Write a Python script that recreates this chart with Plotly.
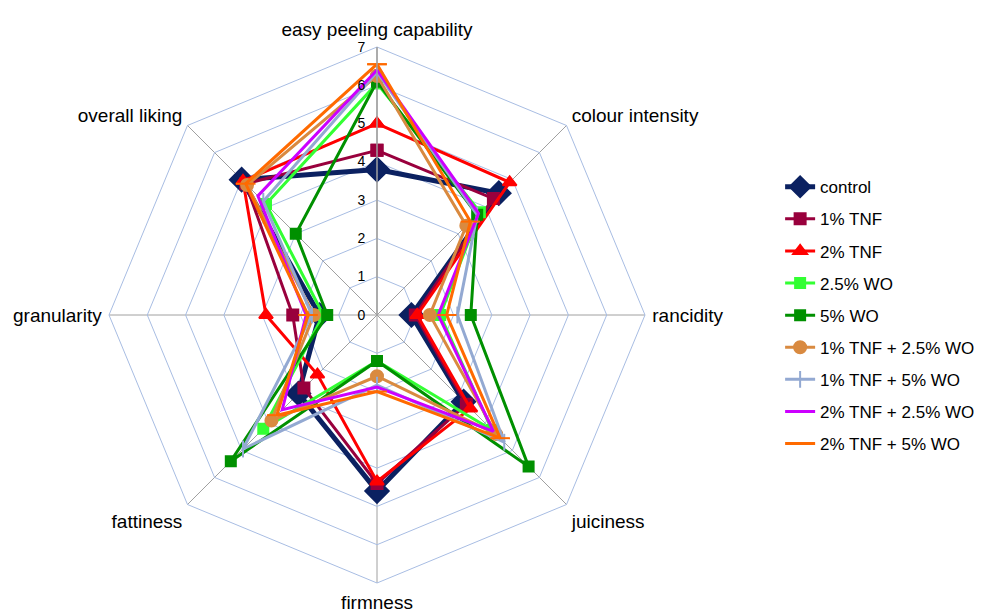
import plotly.graph_objects as go

# Sensory attributes, clockwise from the top
attributes = ["easy peeling capability", "colour intensity", "rancidity", "juiciness",
              "firmness", "fattiness", "granularity", "overall liking"]

control        = [3.8, 4.5, 0.9, 3.2, 4.6, 2.9, 1.5, 5.0]
tnf_1          = [4.3, 4.3, 1.0, 3.3, 4.4, 2.7, 2.2, 4.85]
tnf_2          = [5.0, 4.9, 1.05, 3.45, 4.35, 2.2, 2.9, 4.95]
wo_2_5         = [6.05, 3.8, 1.65, 4.25, 1.2, 4.2, 1.4, 4.1]
wo_5           = [6.1, 3.7, 2.45, 5.6, 1.2, 5.4, 1.3, 3.0]
tnf1_wo2_5     = [6.25, 3.3, 1.38, 4.4, 1.6, 3.9, 1.65, 4.8]
tnf1_wo5       = [6.35, 3.7, 2.1, 4.7, 1.83, 4.95, 1.7, 4.2]
tnf2_wo2_5     = [6.4, 3.75, 1.6, 4.3, 1.88, 3.5, 1.85, 4.4]
tnf2_wo5       = [6.55, 3.45, 1.82, 4.55, 2.0, 3.7, 1.8, 4.85]

radial_ticks = [0, 1, 2, 3, 4, 5, 6, 7]

series = [
    ("control", control, "#0B2161", "diamond", 18, 5),
    ("1% TNF", tnf_1, "#99003D", "square", 11, 3),
    ("2% TNF", tnf_2, "#FF0000", "triangle-up", 12, 3),
    ("2.5% WO", wo_2_5, "#33FF33", "square", 10, 3),
    ("5% WO", wo_5, "#009000", "square", 10, 3),
    ("1% TNF + 2.5% WO", tnf1_wo2_5, "#D98A40", "circle", 12, 3),
    ("1% TNF + 5% WO", tnf1_wo5, "#93A9D2", "line-ns", 12, 3),
    ("2% TNF + 2.5% WO", tnf2_wo2_5, "#CC00FF", None, 0, 3),
    ("2% TNF + 5% WO", tnf2_wo5, "#FF6A00", "line-ew", 14, 3),
]

fig = go.Figure()
for name, vals, color, symbol, msize, lw in series:
    r = vals + vals[:1]
    th = attributes + attributes[:1]
    if symbol is None:
        mode = "lines"
        marker = dict()
    else:
        mode = "lines+markers"
        marker = dict(symbol=symbol, size=msize, color=color,
                      line=dict(color=color, width=2))
    fig.add_trace(go.Scatterpolar(r=r, theta=th, name=name, mode=mode,
                                  legendgroup=name,
                                  line=dict(color=color, width=lw),
                                  marker=marker))

fig.update_layout(
    width=985, height=613,
    paper_bgcolor="white",
    font=dict(family="Liberation Sans, Arial, sans-serif", size=17, color="black"),
    margin=dict(l=0, r=0, t=0, b=0),
    showlegend=True,
    legend=dict(x=0.792, y=0.724, xanchor="left", yanchor="top",
                font=dict(size=17), tracegroupgap=7, itemwidth=30,
                bgcolor="rgba(0,0,0,0)"),
    polar=dict(
        domain=dict(x=[109/985, 645/985], y=[30/613, 566/613]),
        bgcolor="white",
        gridshape="linear",
        angularaxis=dict(rotation=90, direction="clockwise",
                         showline=True, linecolor="#A8BDE3", linewidth=1,
                         gridcolor="#A0A0A0", gridwidth=1,
                         ticks="outside", ticklen=3, tickcolor="rgba(0,0,0,0)",
                         tickfont=dict(size=19)),
        radialaxis=dict(range=[0, 7], tickvals=radial_ticks, angle=90,
                        showline=True, linecolor="#A0A0A0", linewidth=1.5,
                        gridcolor="#A8BDE3", gridwidth=1,
                        ticks="outside", ticklen=6, tickcolor="rgba(0,0,0,0)",
                        tickfont=dict(size=14),
                        side="counterclockwise", tickangle=90),
    ),
)

fig.write_html("out.html")
